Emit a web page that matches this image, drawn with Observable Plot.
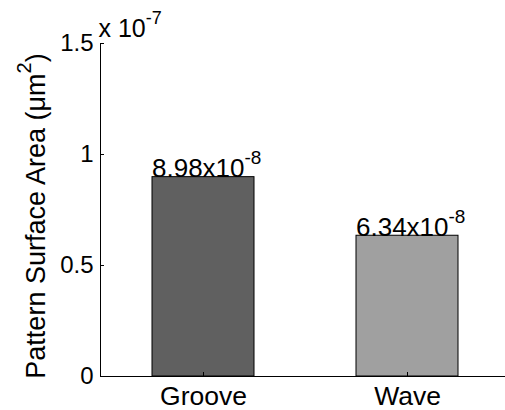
<!DOCTYPE html>
<html>
<head>
<meta charset="utf-8">
<script src="https://cdn.jsdelivr.net/npm/d3@7"></script>
<script src="https://cdn.jsdelivr.net/npm/@observablehq/plot@0.6"></script>
<style>
  html, body { margin: 0; padding: 0; background: #fff; overflow: hidden; }
  #chart svg { max-width: none !important; }
</style>
</head>
<body>
<div id="chart"></div>
<script>
// ---- data ----
const categories = ["Groove", "Wave"];
const values = [8.98e-8, 6.34e-8];
const barColors = ["#606060", "#a0a0a0"];
const yTicks = [0, 0.5e-7, 1e-7, 1.5e-7];
const yTickLabels = ["0", "0.5", "1", "1.5"];
const yExponentLabel = "x 10^{-7}";
const yLabel = "Pattern Surface Area (\u03BCm^{2})";

function sciLabel(v) {
  const e = Math.floor(Math.log10(v));
  const m = (v / Math.pow(10, e)).toFixed(2);
  return m + "x10^{" + e + "}";
}

const data = categories.map((c, i) => ({cat: c, value: values[i], label: sciLabel(values[i])}));

const font = "'Liberation Sans', Arial, sans-serif";

const chart = Plot.plot({
  width: 509,
  height: 410,
  marginLeft: 100,
  marginRight: 0,
  marginTop: 43,
  marginBottom: 34,
  style: {fontFamily: font, fontSize: "24px", color: "#000", background: "#fff", overflow: "visible", maxWidth: "none"},
  x: {type: "band", domain: categories, paddingInner: 0.5, paddingOuter: 0.25, label: null},
  y: {domain: [0, 1.5e-7], label: null},
  color: {domain: categories, range: barColors},
  marks: [
    Plot.barY(data, {x: "cat", y: "value", fill: "cat", stroke: "#000", strokeWidth: 1}),
    Plot.ruleY([0], {stroke: "#000", strokeWidth: 1}),
    Plot.frame({anchor: "left", stroke: "#000", strokeWidth: 1}),
    // y tick labels
    Plot.axisY({ticks: yTicks, tickFormat: (d, i) => yTickLabels[i], tickSize: 0, tickPadding: 7, fontSize: 24}),
    // inward y ticks
    Plot.axisY({ticks: yTicks, tickSize: 4, text: null, dx: 4, stroke: "#000"}),
    // x tick labels
    Plot.axisX({tickSize: 0, tickPadding: 10, fontSize: 26.5}),
    Plot.axisX({tickSize: 4, text: null, dy: -4, stroke: "#000"}),
    // value labels
    Plot.text(data, {x: "cat", y: "value", text: "label", textAnchor: "start", lineAnchor: "bottom", dx: -51.5, dy: 0, fontSize: 26, fill: "#000"}),
    // exponent label
    Plot.text([yExponentLabel], {frameAnchor: "top-left", textAnchor: "start", lineAnchor: "bottom", dx: -2, dy: -7, fontSize: 25, fill: "#000"}),
    // y label
    Plot.text([yLabel], {frameAnchor: "left", rotate: -90, textAnchor: "middle", lineAnchor: "middle", dx: -64, dy: 6, fontSize: 27, fill: "#000"})
  ]
});

// explicit font sizes + superscripts
d3.select(chart).selectAll("text").each(function() {
  const node = this;
  const s = node.textContent;
  const holder = node.closest("[font-size]");
  let fs = holder ? parseFloat(holder.getAttribute("font-size")) : NaN;
  if (!(fs > 0)) fs = 24;
  node.setAttribute("font-size", fs);
  const m = s.match(/^(.*)\^\{([^}]*)\}(.*)$/);
  if (!m) return;
  const supSize = Math.round(fs * 0.73);
  const shift = Math.round(fs * 0.5);
  const sel = d3.select(node);
  sel.text(null);
  sel.append("tspan").text(m[1]);
  sel.append("tspan").attr("dy", -shift).attr("font-size", supSize).text(m[2]);
  if (m[3]) sel.append("tspan").attr("dy", shift).text(m[3]);
});

chart.style.maxWidth = "none";
document.getElementById("chart").appendChild(chart);
</script>
</body>
</html>
